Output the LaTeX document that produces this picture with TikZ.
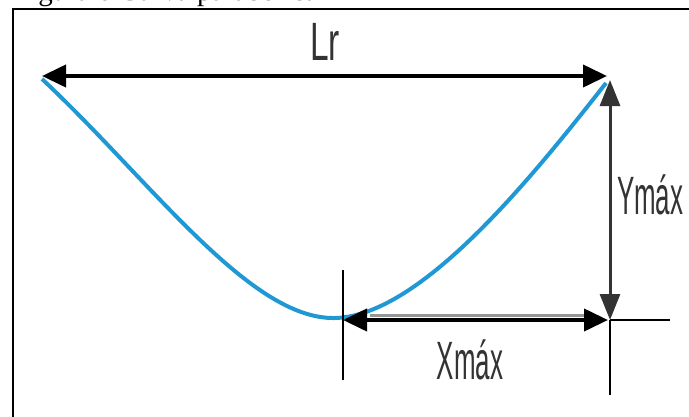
\documentclass[tikz,border=0pt]{standalone}
\usepackage{fontspec}
\setmainfont{Liberation Serif}
\newfontfamily\labfont{Liberation Sans}
\usepackage{xcolor}
\usetikzlibrary{arrows.meta,positioning}
\definecolor{cblue}{RGB}{32,152,212}
\definecolor{dgray}{RGB}{51,51,51}
\definecolor{lgray}{RGB}{150,150,150}

\begin{document}
\begin{tikzpicture}[
  x=1pt,y=-1pt,
  dim/.style={{Triangle[length=24pt,width=22pt]}-{Triangle[length=24pt,width=22pt]},line width=4pt,black},
  ext/.style={line width=2pt,black},
  curve/.style={line width=4pt,cblue},
  lab/.style={font=\labfont\fontsize{54}{54}\selectfont,text=dgray,inner sep=0pt,transform shape},
  ]
  \useasboundingbox (0,0) rectangle (689,416);
  % frame and caption
  \draw[line width=2.5pt] (13,430) -- (13,9) -- (700,9);
  \node[anchor=base west,inner sep=0pt,font=\fontsize{29}{29}\selectfont] (cap) at (14,0.5) {Figura 6 Curva parab\'olica};
  % points
  \coordinate (pl) at (42,76);
  \coordinate (pr) at (607,76);
  \coordinate (vtx) at (335,318);
  \coordinate (yt) at (610,80);
  \coordinate (yb) at (610,320);
  \coordinate (xl) at (343,320);
  \coordinate (xr) at (608,320);
  % parabola
  \draw[curve] (42,79) .. controls (150,180) and (250,320) .. (vtx)
    .. controls (420,316) and (530,180) .. (606,83);
  % Lr
  \draw[dim] (pl) -- (pr);
  \node[lab,xscale=0.62] (lr) at (325,42) {Lr};
  % Ymax
  \draw[ext] (yb) -- (610,395);
  \draw[ext] (yb) -- (670,320);
  \draw[line width=3pt,dgray,{Triangle[length=26pt,width=20pt]}-{Triangle[length=26pt,width=20pt]}] (yt) -- (yb);
  \node[lab,xscale=0.48,anchor=west] (ym) at (617,195) {Ym\'ax};
  % Xmax
  \draw[ext] (343,270) -- (343,380);
  \draw[line width=3pt,lgray] (370,315) -- (595,315);
  \draw[dim] (xl) -- (xr);
  \node[lab,xscale=0.48] (xm) at (470,360) {Xm\'ax};
\end{tikzpicture}
\end{document}
